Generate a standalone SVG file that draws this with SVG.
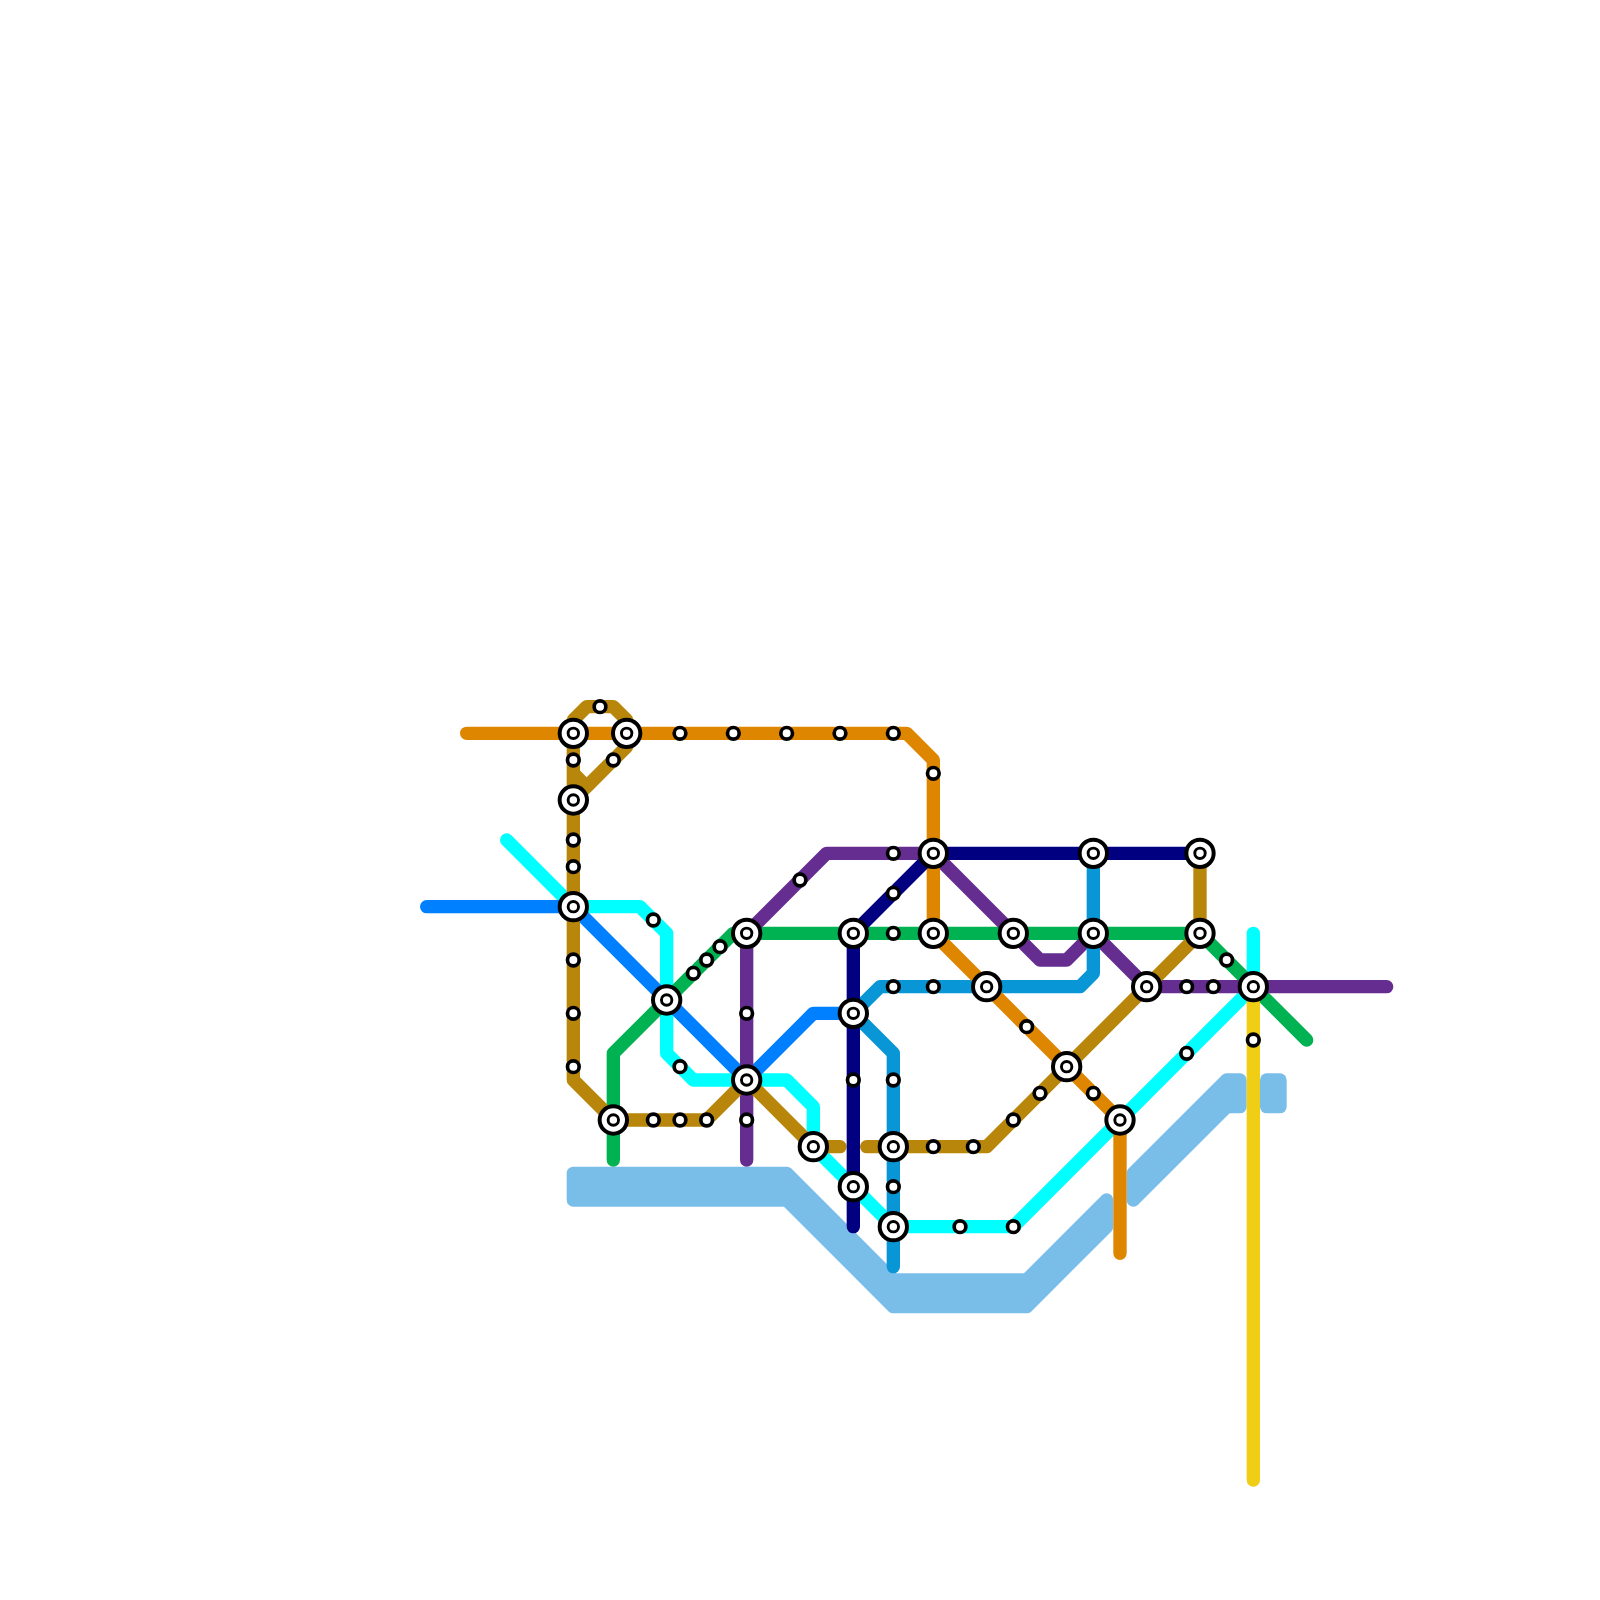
<svg xmlns="http://www.w3.org/2000/svg" width="1600" height="1600" viewBox="0 0 1600 1600">
<style>
.l{fill:none;stroke-width:1;stroke-linecap:round;stroke-linejoin:round}
.w{fill:#79bde9;stroke:#79bde9;stroke-width:1;stroke-linejoin:round}
.o{fill:#fff;stroke:#000;stroke-width:.3}
.i{fill:#fff;stroke:#000;stroke-width:.22}
.s{fill:#fff;stroke:#000;stroke-width:.275}
</style>
<defs>
<g id="ix"><circle class="o" r="1.025"/><circle class="i" r=".39"/></g>
<g id="st"><circle class="s" r=".4375"/></g>
</defs>
<rect width="1600" height="1600" fill="#fff"/>
<g id="water" transform="scale(13.33333)">
<polygon class="w" points="43,88 59,88 67,96 77,96 83,90 83,92 77,98 67,98 59,90 43,90"/>
<polygon class="w" points="85,88 92,81 93,81 93,83 92,83 85,90"/>
<polygon class="w" points="95,81 96,81 96,83 95,83"/>
</g>
<g id="connectors" transform="scale(13.33333)">
<path id="line-cyan" class="l" stroke="#00ffff" d="M38 63L43 68H48L50 70V79L52 81H59L61 83V86L67 92H76L94 74M94 70V74"/>
<path id="line-blue" class="l" stroke="#0080ff" d="M32 68H43L56 81L61 76H64"/>
<path id="line-green" class="l" stroke="#00b251" d="M46 87V79L55 70H90L98 78"/>
<path id="line-purple" class="l" stroke="#662d91" d="M56 87V70L62 64H70L78 72H80L82 70L86 74H104"/>
<path id="line-brown" class="l" stroke="#b8860b" d="M43 58L44 59L47 56V54L46 53H44L43 54V81L46 84H53L56 81L61 86H63M43 60L47 56M65 86H74L90 70V64"/>
<path id="line-lightblue" class="l" stroke="#0896d7" d="M82 64V73L81 74H66L64 76L67 79V95"/>
<path id="line-orange" class="l" stroke="#df8600" d="M35 55H68L70 57V70L84 84V94"/>
<path id="line-navy" class="l" stroke="#000080" d="M64 92V70L70 64H90"/>
<path id="line-yellow" class="l" stroke="#f0ce15" d="M94 74V111"/>
</g>
<g id="stations" transform="scale(13.33333)">
<g id="ix-43-55" transform="translate(43 55)"><use href="#ix"/></g>
<g id="ix-47-55" transform="translate(47 55)"><use href="#ix"/></g>
<g id="ix-43-60" transform="translate(43 60)"><use href="#ix"/></g>
<g id="ix-43-68" transform="translate(43 68)"><use href="#ix"/></g>
<g id="ix-50-75" transform="translate(50 75)"><use href="#ix"/></g>
<g id="ix-56-70" transform="translate(56 70)"><use href="#ix"/></g>
<g id="ix-56-81" transform="translate(56 81)"><use href="#ix"/></g>
<g id="ix-46-84" transform="translate(46 84)"><use href="#ix"/></g>
<g id="ix-61-86" transform="translate(61 86)"><use href="#ix"/></g>
<g id="ix-64-70" transform="translate(64 70)"><use href="#ix"/></g>
<g id="ix-64-76" transform="translate(64 76)"><use href="#ix"/></g>
<g id="ix-64-89" transform="translate(64 89)"><use href="#ix"/></g>
<g id="ix-67-86" transform="translate(67 86)"><use href="#ix"/></g>
<g id="ix-67-92" transform="translate(67 92)"><use href="#ix"/></g>
<g id="ix-70-64" transform="translate(70 64)"><use href="#ix"/></g>
<g id="ix-70-70" transform="translate(70 70)"><use href="#ix"/></g>
<g id="ix-74-74" transform="translate(74 74)"><use href="#ix"/></g>
<g id="ix-76-70" transform="translate(76 70)"><use href="#ix"/></g>
<g id="ix-80-80" transform="translate(80 80)"><use href="#ix"/></g>
<g id="ix-82-64" transform="translate(82 64)"><use href="#ix"/></g>
<g id="ix-82-70" transform="translate(82 70)"><use href="#ix"/></g>
<g id="ix-84-84" transform="translate(84 84)"><use href="#ix"/></g>
<g id="ix-86-74" transform="translate(86 74)"><use href="#ix"/></g>
<g id="ix-90-64" transform="translate(90 64)"><use href="#ix"/></g>
<g id="ix-90-70" transform="translate(90 70)"><use href="#ix"/></g>
<g id="ix-94-74" transform="translate(94 74)"><use href="#ix"/></g>
<g id="st-45-53" transform="translate(45 53)"><use href="#st"/></g>
<g id="st-43-57" transform="translate(43 57)"><use href="#st"/></g>
<g id="st-46-57" transform="translate(46 57)"><use href="#st"/></g>
<g id="st-51-55" transform="translate(51 55)"><use href="#st"/></g>
<g id="st-55-55" transform="translate(55 55)"><use href="#st"/></g>
<g id="st-59-55" transform="translate(59 55)"><use href="#st"/></g>
<g id="st-63-55" transform="translate(63 55)"><use href="#st"/></g>
<g id="st-67-55" transform="translate(67 55)"><use href="#st"/></g>
<g id="st-70-58" transform="translate(70 58)"><use href="#st"/></g>
<g id="st-43-63" transform="translate(43 63)"><use href="#st"/></g>
<g id="st-43-65" transform="translate(43 65)"><use href="#st"/></g>
<g id="st-49-69" transform="translate(49 69)"><use href="#st"/></g>
<g id="st-43-72" transform="translate(43 72)"><use href="#st"/></g>
<g id="st-43-76" transform="translate(43 76)"><use href="#st"/></g>
<g id="st-43-80" transform="translate(43 80)"><use href="#st"/></g>
<g id="st-60-66" transform="translate(60 66)"><use href="#st"/></g>
<g id="st-67-64" transform="translate(67 64)"><use href="#st"/></g>
<g id="st-67-67" transform="translate(67 67)"><use href="#st"/></g>
<g id="st-67-70" transform="translate(67 70)"><use href="#st"/></g>
<g id="st-67-74" transform="translate(67 74)"><use href="#st"/></g>
<g id="st-70-74" transform="translate(70 74)"><use href="#st"/></g>
<g id="st-54-71" transform="translate(54 71)"><use href="#st"/></g>
<g id="st-53-72" transform="translate(53 72)"><use href="#st"/></g>
<g id="st-52-73" transform="translate(52 73)"><use href="#st"/></g>
<g id="st-56-76" transform="translate(56 76)"><use href="#st"/></g>
<g id="st-51-80" transform="translate(51 80)"><use href="#st"/></g>
<g id="st-49-84" transform="translate(49 84)"><use href="#st"/></g>
<g id="st-51-84" transform="translate(51 84)"><use href="#st"/></g>
<g id="st-53-84" transform="translate(53 84)"><use href="#st"/></g>
<g id="st-56-84" transform="translate(56 84)"><use href="#st"/></g>
<g id="st-64-81" transform="translate(64 81)"><use href="#st"/></g>
<g id="st-67-81" transform="translate(67 81)"><use href="#st"/></g>
<g id="st-67-89" transform="translate(67 89)"><use href="#st"/></g>
<g id="st-70-86" transform="translate(70 86)"><use href="#st"/></g>
<g id="st-73-86" transform="translate(73 86)"><use href="#st"/></g>
<g id="st-72-92" transform="translate(72 92)"><use href="#st"/></g>
<g id="st-76-92" transform="translate(76 92)"><use href="#st"/></g>
<g id="st-76-84" transform="translate(76 84)"><use href="#st"/></g>
<g id="st-78-82" transform="translate(78 82)"><use href="#st"/></g>
<g id="st-77-77" transform="translate(77 77)"><use href="#st"/></g>
<g id="st-82-82" transform="translate(82 82)"><use href="#st"/></g>
<g id="st-89-74" transform="translate(89 74)"><use href="#st"/></g>
<g id="st-91-74" transform="translate(91 74)"><use href="#st"/></g>
<g id="st-92-72" transform="translate(92 72)"><use href="#st"/></g>
<g id="st-89-79" transform="translate(89 79)"><use href="#st"/></g>
<g id="st-94-78" transform="translate(94 78)"><use href="#st"/></g>
</g>
</svg>
